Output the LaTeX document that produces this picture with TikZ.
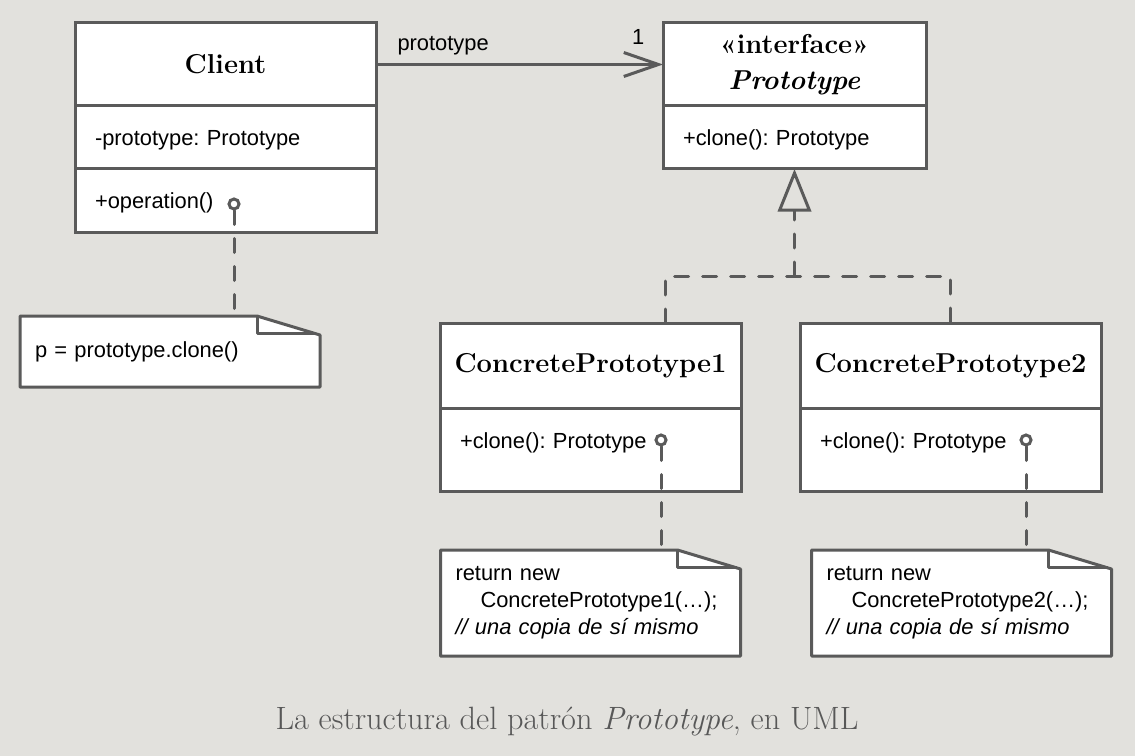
\documentclass[tikz,border=0pt]{standalone}
\usepackage{fontspec}
\newfontfamily\umlsans{Liberation Sans}
\usetikzlibrary{positioning,calc,arrows.meta}
\pgfdeclarelayer{background}
\pgfsetlayers{background,main}
\definecolor{umlgray}{RGB}{90,90,90}
\definecolor{paper}{RGB}{226,225,221}
\definecolor{captiongray}{RGB}{88,88,88}
\frenchspacing

\tikzset{
	umlline/.style={draw=umlgray,line width=2.25pt},
	realize/.style={umlline,dash pattern=on 10.5pt off 10.5pt,line cap=round},
	cell/.style={umlline,fill=white,minimum width=225.75pt,inner sep=0pt,outer sep=0pt},
	namecell/.style={cell,minimum height=62.25pt,align=center,font=\fontsize{20.5}{27}\selectfont\bfseries},
	membercell/.style={cell,inner xsep=15pt,text width=195.75pt,align=left,text height=30pt,text depth=17.25pt,font=\umlsans\fontsize{16.4}{20}\selectfont},
	notebox/.style={inner xsep=11.25pt,inner ysep=0pt,outer sep=0pt,minimum width=225pt,text width=202.5pt,align=left,font=\umlsans\fontsize{16.4}{20.2}\selectfont},
	pindot/.style={circle,draw=umlgray,fill=white,line width=2.25pt,minimum size=7.5pt,inner sep=0pt},
	roletext/.style={inner sep=0pt,font=\umlsans\fontsize{16.4}{20}\selectfont}
}

% outline of a note with folded corner
\newcommand\notefold[1]{%
	\filldraw[umlline,fill=white,line join=round] (#1.south west) -- (#1.north west) -- ($(#1.north east)+(-63,0)$) -- ($(#1.north east)+(0,19)$) -- (#1.south east) -- cycle;
	\draw[umlline,line join=round] ($(#1.north east)+(-63,0)$) -- ++(0,17) -- ($(#1.north east)+(-4,17)$);}

\begin{document}
\begin{tikzpicture}[x=0.75pt,y=-0.75pt]
	\useasboundingbox (0,0) rectangle (1135,756);
	
	% Client
	\node[namecell] (client) at (225.5,64.5) {Client};
	\node[membercell,below=0pt of client] (clientattr) {-prototype: Prototype};
	\node[membercell,below=0pt of clientattr] (clientop) {+operation()};
	
	% interface
	\node[namecell,minimum width=197.25pt] (iface) at (794.5,64.5) {«interface»\\\textit{Prototype}};
	\node[membercell,minimum width=197.25pt,text width=167.25pt,below=0pt of iface] (ifaceop) {+clone(): Prototype};
	
	% concrete classes
	\node[namecell,minimum height=63.75pt] (cp1) at (590.5,365.5) {ConcretePrototype1};
	\node[membercell,text depth=32.25pt,below=0pt of cp1] (cp1op) {+clone(): Prototype};
	\node[namecell,minimum height=63.75pt] (cp2) at (950.5,365.5) {ConcretePrototype2};
	\node[membercell,text depth=32.25pt,below=0pt of cp2] (cp2op) {+clone(): Prototype};
	
	% notes
	\node[notebox,minimum height=53.25pt] (note1) at (170,351.5) {p = prototype.clone()};
	\node[notebox,minimum height=79.5pt] (note2) at (590.5,603) {return new\\\hspace*{18.75pt}ConcretePrototype1(…);\\\textit{// una copia de sí mismo}};
	\node[notebox,minimum height=79.5pt] (note3) at (961.5,603) {return new\\\hspace*{18.75pt}ConcretePrototype2(…);\\\textit{// una copia de sí mismo}};
	
	\begin{pgfonlayer}{background}
		\fill[paper] (0,0) rectangle (1135,756);
		\notefold{note1}
		\notefold{note2}
		\notefold{note3}
	\end{pgfonlayer}
	
	% association
	\draw[umlline,-{Straight Barb[length=26pt,width=18pt]}] (client.east) -- (iface.west)
	node[roletext,pos=0,anchor=south west,xshift=15pt,yshift=6pt] {prototype}
	node[roletext,pos=1,anchor=south east,xshift=-13pt,yshift=14pt] {1};
	
	% realization
	\coordinate (fork) at (794.5,276);
	\draw[realize] ($(cp1.north)+(75,0)$) |- (fork) -| (cp2.north);
	\draw[realize,-{Triangle[open,length=32pt,width=25pt]}] (fork) -- (ifaceop.south);
	
	% note links
	\node[pindot] (dot1) at (234,204) {};
	\node[pindot] (dot2) at (661,440) {};
	\node[pindot] (dot3) at (1026,440) {};
	\draw[realize] (dot1) -- (dot1 |- note1.north);
	\draw[realize] (dot2) -- (dot2 |- note2.north);
	\draw[realize] (dot3) -- (dot3 |- note3.north);
	
	\node[text=captiongray,font=\fontsize{24.2}{29}\selectfont] (caption) at (567,722) {La estructura del patrón \textit{Prototype}, en UML};
\end{tikzpicture}
\end{document}
